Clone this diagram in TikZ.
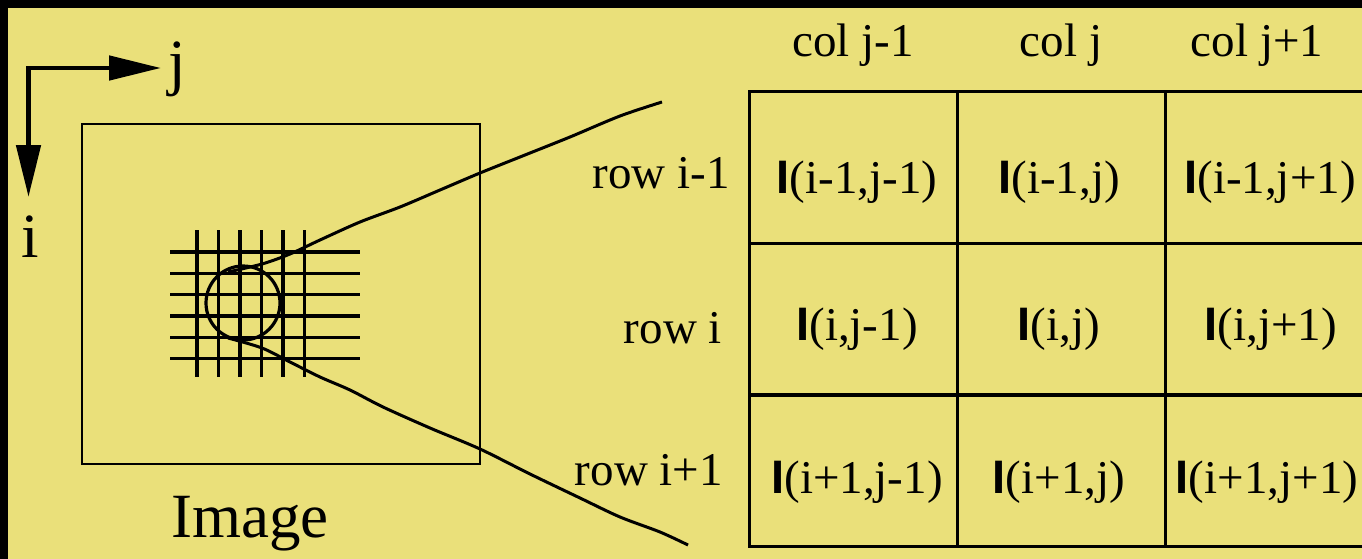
\documentclass[tikz,border=0pt]{standalone}
\usepackage{fontspec}
\setmainfont{Liberation Serif}
\newfontfamily\sansI{Liberation Sans}
\usetikzlibrary{arrows.meta}
\definecolor{bg}{RGB}{234,224,122}
\newcommand\cellI[1]{{\sansI\bfseries I}(#1)}
\begin{document}
\begin{tikzpicture}[x=1pt,y=-1pt,
  lbl/.style={font=\fontsize{47}{50}\selectfont, inner sep=0pt, anchor=base},
  rowlbl/.style={font=\fontsize{47}{50}\selectfont, inner sep=0pt, anchor=base east},
  big/.style={font=\fontsize{63}{66}\selectfont, inner sep=0pt, anchor=base},
  cellbox/.style={draw=black, line width=3pt, minimum width=208pt, minimum height=151.7pt, inner sep=0pt},
  gridline/.style={line width=3.2pt},
  wobble/.style={line width=3pt, smooth, tension=0.5},
  axisarrow/.style={line width=4.8pt, line join=miter,
     {Triangle[length=52pt,width=24pt]}-{Triangle[length=52pt,width=24pt]}}
]
\clip (0,0) rectangle (1362,559);
\fill[black] (0,0) rectangle (1362,559);
\fill[bg] (8,8) rectangle (1362,559);
\useasboundingbox (0,0) rectangle (1362,559);

% axes
\coordinate (o) at (28.5,68);
\coordinate (jend) at (161,68);
\coordinate (iend) at (28.5,197);
\draw[axisarrow] (iend) -- (o) -- (jend);
\node[big] (jlbl) at (177,84) {j};
\node[big] (ilbl) at (30,257) {i};

% image frame
\node[draw=black, line width=2.8pt, minimum width=398pt, minimum height=340pt, inner sep=0pt] (img) at (281,294) {};
\node[big] (imglbl) at (250,537) {Image};

% grid
\foreach \x in {197,218.5,240,261.5,283,304.5}
  \draw[gridline] (\x,230) -- (\x,377);
\foreach \y in {252,273.3,294.6,316,337.3,358.6}
  \draw[gridline] (170,\y) -- (360,\y);

% neighbourhood circle
\node[draw=black, line width=3.2pt, circle, minimum size=74pt, inner sep=0pt] (nbh) at (243,303) {};

% magnifying lines
\draw[wobble] plot coordinates {(228,272) (262,264) (290,254) (320,240) (360,222) (400,207) (440,190) (480,173) (525,155) (570,137) (620,116) (662,102)};
\draw[wobble] plot coordinates {(228,338) (262,348) (290,362) (320,377) (350,390) (383,407) (430,428) (480,449) (530,474) (580,498) (620,517) (660,532) (688,545)};

% table cells
\foreach \r/\yc in {1/167.5,2/319,3/471}
  \foreach \c/\xc in {1/853,2/1061,3/1269}
    \node[cellbox] (c\r\c) at (\xc,\yc) {};

% column labels
\node[lbl] (colA) at (853,57) {col j-1};
\node[lbl] (colB) at (1061,57) {col j};
\node[lbl] (colC) at (1257,57) {col j+1};

% row labels
\node[rowlbl] (rowA) at (730,188) {row i-1};
\node[rowlbl] (rowB) at (722,343) {row i};
\node[rowlbl] (rowC) at (723,485) {row i+1};

% cell texts
\node[lbl] (t11) at (857,193) {\cellI{i-1,j-1}};
\node[lbl] (t12) at (1059,193) {\cellI{i-1,j}};
\node[lbl] (t13) at (1270,193) {\cellI{i-1,j+1}};
\node[lbl] (t21) at (857,340) {\cellI{i,j-1}};
\node[lbl] (t22) at (1059,340) {\cellI{i,j}};
\node[lbl] (t23) at (1271,340) {\cellI{i,j+1}};
\node[lbl] (t31) at (857,493) {\cellI{i+1,j-1}};
\node[lbl] (t32) at (1059,493) {\cellI{i+1,j}};
\node[lbl] (t33) at (1267,493) {\cellI{i+1,j+1}};
\end{tikzpicture}
\end{document}
